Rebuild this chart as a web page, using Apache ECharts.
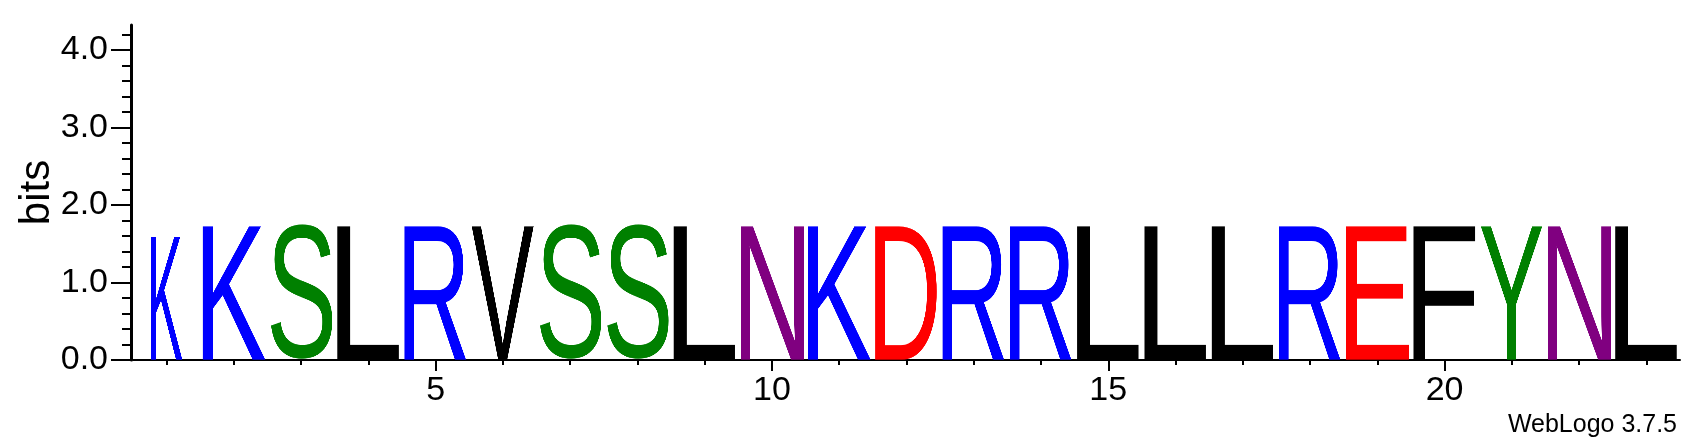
<!DOCTYPE html>
<html>
<head>
	<meta charset="UTF-8" />
	<title>WebLogo</title>
	<style>
		html, body { margin: 0; padding: 0; background: #fff; }
		#logo { width: 1703px; height: 444px; }
	</style>
</head>
<body>
	<div id="logo"></div>
	<script type="text/javascript" src="https://cdn.jsdelivr.net/npm/echarts@6/dist/echarts.min.js"></script>
	<script type="text/javascript">
		// one residue per column
		const positions = [1, 2, 3, 4, 5, 6, 7, 8, 9, 10, 11, 12, 13, 14, 15, 16, 17, 18, 19, 20, 21, 22, 23];
		const residues = ['K', 'K', 'S', 'L', 'R', 'V', 'S', 'S', 'L', 'N', 'K', 'D', 'R', 'R', 'L', 'L', 'L', 'R', 'E', 'F', 'Y', 'N', 'L'];
		const bits = [1.62, 1.76, 1.76, 1.76, 1.76, 1.76, 1.76, 1.76, 1.76, 1.76, 1.76, 1.76, 1.76, 1.76, 1.76, 1.76, 1.76, 1.76, 1.76, 1.76, 1.76, 1.76, 1.76];
		const xTicks = [5, 10, 15, 20];
		const yTicks = [0, 1, 2, 3, 4];

		const FONT = '"Liberation Sans", Arial, Helvetica, sans-serif';
		const colours = { // chemistry scheme
			G: '#008000', S: '#008000', T: '#008000', Y: '#008000', C: '#008000',
			N: '#800080', Q: '#800080',
			K: '#0000ff', R: '#0000ff', H: '#0000ff',
			D: '#ff0000', E: '#ff0000'
		};
		const colWidth = 0.94;
		const narrow = { 0: 0.47 }; // first stack is drawn squeezed

		const glyphs = {};
		function glyph(ch) { // letter cropped tight to its ink, stretched later
			if (glyphs[ch]) return glyphs[ch];
			const fs = 400;
			const font = fs + 'px ' + FONT;
			const c = document.createElement('canvas');
			let ctx = c.getContext('2d');
			ctx.font = font;
			const m = ctx.measureText(ch);
			const l = m.actualBoundingBoxLeft, r = m.actualBoundingBoxRight;
			const a = m.actualBoundingBoxAscent, d = m.actualBoundingBoxDescent;
			c.width = Math.ceil(l + r);
			c.height = Math.ceil(a + d);
			ctx = c.getContext('2d');
			ctx.font = font;
			ctx.fillStyle = colours[ch] || '#000000';
			ctx.textBaseline = 'alphabetic';
			ctx.fillText(ch, l, a);
			glyphs[ch] = c;
			return c;
		}

		const chart = echarts.init(document.getElementById('logo'));
		chart.setOption({
			animation: false,
			grid: { left: 133, right: 23, top: 25, bottom: 84, containLabel: false, outerBoundsMode: 'none' },
			xAxis: [{
				type: 'value', min: 0.5, max: 23.5, position: 'bottom',
				axisLine: { show: true, onZero: false, lineStyle: { color: '#000', width: 2 } },
				axisTick: { show: true, customValues: positions, length: 5, lineStyle: { color: '#000', width: 2 } },
				axisLabel: { show: false },
				splitLine: { show: false }
			}, {
				type: 'value', min: 0.5, max: 23.5, position: 'bottom',
				axisLine: { show: false, onZero: false },
				axisTick: { show: true, customValues: xTicks, length: 11, lineStyle: { color: '#000', width: 2 } },
				axisLabel: { show: true, customValues: xTicks, margin: 14, fontSize: 34, color: '#000', fontFamily: FONT },
				splitLine: { show: false }
			}],
			yAxis: {
				type: 'value', min: 0, max: 4.32, interval: 1, offset: 2,
				name: 'bits', nameLocation: 'middle', nameGap: 73, nameMoveOverlap: false,
				nameTextStyle: { fontSize: 42, color: '#000', fontFamily: FONT },
				axisLine: { show: true, onZero: false, lineStyle: { color: '#000', width: 3 } },
				axisTick: { show: true, customValues: yTicks, length: 20, lineStyle: { color: '#000', width: 2 } },
				minorTick: { show: true, splitNumber: 5, length: 9, lineStyle: { color: '#000', width: 2 } },
				axisLabel: {
					show: true, customValues: yTicks, margin: 23, fontSize: 34, color: '#000', fontFamily: FONT,
					formatter: function (v) { return v.toFixed(1); }
				},
				splitLine: { show: false }
			},
			graphic: [{
				type: 'text', right: 26, top: 413,
				style: { text: 'WebLogo 3.7.5', font: '25px ' + FONT, fill: '#000' }
			}],
			series: [{
				type: 'custom',
				xAxisIndex: 0,
				coordinateSystem: 'cartesian2d',
				encode: { x: 0, y: 1 },
				data: positions.map(function (p, i) { return [p, bits[i], i]; }),
				renderItem: function (params, api) {
					const i = api.value(2);
					const half = (narrow[i] || colWidth) / 2;
					const tl = api.coord([api.value(0) - half, api.value(1)]);
					const br = api.coord([api.value(0) + half, 0]);
					return {
						type: 'image',
						style: {
							image: glyph(residues[i]),
							x: tl[0], y: tl[1],
							width: br[0] - tl[0], height: br[1] - tl[1]
						}
					};
				}
			}]
		});
	</script>
</body>
</html>
